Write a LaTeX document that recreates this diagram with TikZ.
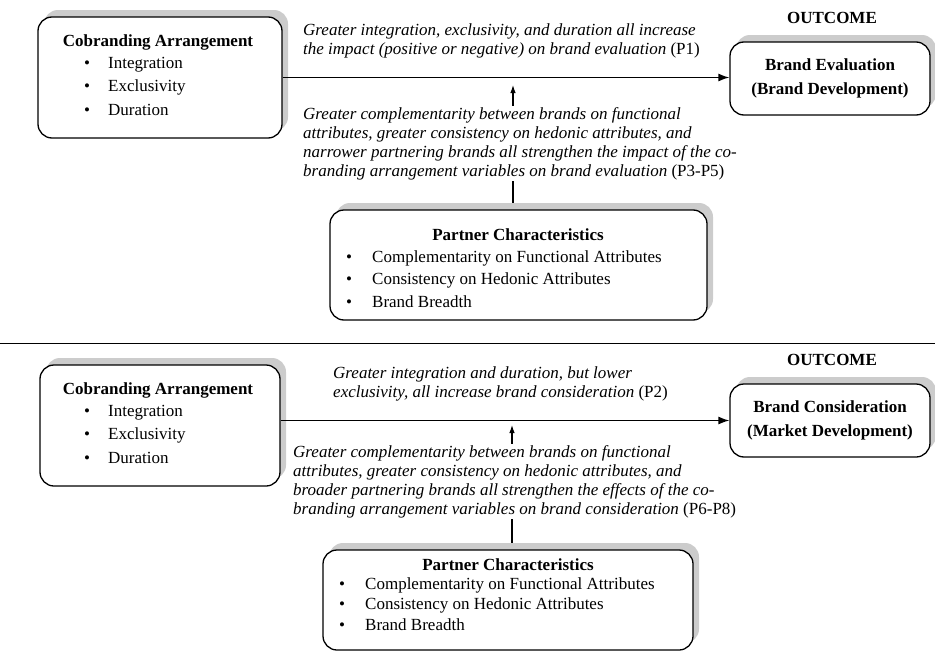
\documentclass[tikz,border=0pt]{standalone}
\usepackage{fontspec}
\setmainfont{Liberation Serif}
\usetikzlibrary{arrows.meta,positioning,shadows,backgrounds}

\begin{document}
\begin{tikzpicture}[x=1pt,y=-1pt]
\tikzset{
  panelbox/.style={rectangle, rounded corners=14pt, draw=black, line width=1.3pt, fill=white,
    drop shadow={shadow xshift=6pt, shadow yshift=7pt, fill=black!20, opacity=1}},
  boxhead/.style={font=\bfseries, inner sep=0pt},
  bulletitem/.style={anchor=west, inner sep=0pt},
  effect/.style={anchor=north west, align=left, font=\itshape, fill=white, inner sep=1pt},
  outcomelab/.style={font=\bfseries, inner sep=0pt},
  flow/.style={-{Latex[length=11pt,width=8pt]}, line width=1.3pt},
  modline/.style={-{Latex[length=8pt,width=5.5pt]}, line width=1.1pt}
}
\fontsize{17pt}{19pt}\selectfont
\useasboundingbox (0,0) rectangle (935,653);

% propositions
\node[effect] (prop1) at (302,23) {Greater integration, exclusivity, and duration all increase\\
  the impact (positive or negative) on brand evaluation \textup{(P1)}};
\node[effect] (prop3) at (302,106) {Greater complementarity between brands on functional\\
  attributes, greater consistency on hedonic attributes, and\\
  narrower partnering brands all strengthen the impact of the co-\\
  branding arrangement variables on brand evaluation \textup{(P3-P5)}};
\node[effect] (prop2) at (332,366) {Greater integration and duration, but lower\\
  exclusivity, all increase brand consideration \textup{(P2)}};
\node[effect] (prop6) at (292,444) {Greater complementarity between brands on functional\\
  attributes, greater consistency on hedonic attributes, and\\
  broader partnering brands all strengthen the effects of the co-\\
  branding arrangement variables on brand consideration \textup{(P6-P8)}};

% top panel
\node[panelbox, minimum width=244pt, minimum height=121pt] (arr1) at (160,77.5) {};
\node[boxhead] (arr1head) at (158,42) {Cobranding Arrangement};
\foreach \lab [count=\i] in {Integration, Exclusivity, Duration}
  \node[bulletitem] (arr1item\i) at (84,42+\i*22.6) {\makebox[24pt][l]{\textbullet}\lab};

\node[panelbox, minimum width=200pt, minimum height=73pt, align=center, font=\bfseries]
  (eval) at (830,78.5) {Brand Evaluation\\[5pt](Brand Development)};
\node[outcomelab] (out1) at (832,18) {OUTCOME};

\node[panelbox, minimum width=377pt, minimum height=110pt] (partner1) at (518.5,265) {};
\node[boxhead] (partner1head) at (518,235) {Partner Characteristics};
\foreach \lab [count=\i] in {Complementarity on Functional Attributes,
    Consistency on Hedonic Attributes, Brand Breadth}
  \node[bulletitem] (partner1item\i) at (346,236+\i*22) {\makebox[26pt][l]{\textbullet}\lab};

% bottom panel
\node[panelbox, minimum width=240pt, minimum height=121pt] (arr2) at (160,425.5) {};
\node[boxhead] (arr2head) at (158,390) {Cobranding Arrangement};
\foreach \lab [count=\i] in {Integration, Exclusivity, Duration}
  \node[bulletitem] (arr2item\i) at (84,390+\i*22.7) {\makebox[24pt][l]{\textbullet}\lab};

\node[panelbox, minimum width=200pt, minimum height=73pt, align=center, font=\bfseries]
  (consid) at (830,420.5) {Brand Consideration\\[5pt](Market Development)};
\node[outcomelab] (out2) at (832,360) {OUTCOME};

\node[panelbox, minimum width=370pt, minimum height=100pt] (partner2) at (508,600) {};
\node[boxhead] (partner2head) at (508,565) {Partner Characteristics};
\foreach \lab [count=\i] in {Complementarity on Functional Attributes,
    Consistency on Hedonic Attributes, Brand Breadth}
  \node[bulletitem] (partner2item\i) at (339,565+\i*20) {\makebox[26pt][l]{\textbullet}\lab};

% links
\coordinate (tip1) at (513,85);
\coordinate (tip2) at (512,425);
\draw[flow] (arr1.east) -- (arr1.east -| eval.west);
\draw[flow] (arr2.east |- consid.west) -- (consid.west);
\draw[line width=0.9pt] (0,343) -- (935,343);
\begin{scope}[on background layer]
  \draw[modline] (partner1.north -| tip1) -- (tip1);
  \draw[modline] (partner2.north -| tip2) -- (tip2);
\end{scope}
\end{tikzpicture}
\end{document}
